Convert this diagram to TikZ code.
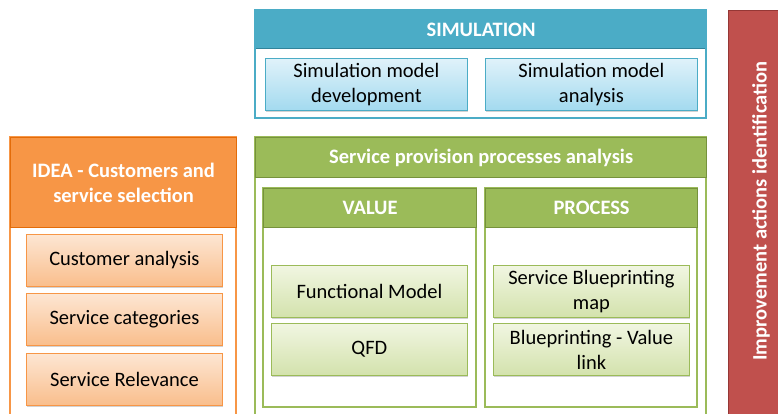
\documentclass[tikz,border=0pt]{standalone}
\usepackage{fontspec}
\setmainfont{Carlito}
\usetikzlibrary{shadows}
\definecolor{aqua}{HTML}{4BACC6}
\definecolor{aquadk}{HTML}{31849B}
\definecolor{bluetop}{HTML}{E0F2FA}
\definecolor{bluebot}{HTML}{A3DAEF}
\definecolor{ogreen}{HTML}{9BBB59}
\definecolor{ogreendk}{HTML}{76923C}
\definecolor{greentop}{HTML}{F1F6E2}
\definecolor{greenbot}{HTML}{D3E2AC}
\definecolor{oorange}{HTML}{F79646}
\definecolor{oorangedk}{HTML}{E36C09}
\definecolor{orangetop}{HTML}{FDE6D3}
\definecolor{orangebot}{HTML}{F9BE8C}
\definecolor{ored}{HTML}{C0504D}
\definecolor{oreddk}{HTML}{953735}
\tikzset{
  frame/.style={draw=#1, line width=1.6pt, fill=white},
  head/.style={draw=#1, line width=1.2pt, text=white, font=\fontsize{20.5}{25}\selectfont\bfseries, align=center, anchor=north west, inner sep=0pt},
  item/.style={draw=#1, line width=0.8pt, align=center, text=black, font=\fontsize{20.5}{25}\selectfont,
    anchor=north west, inner sep=0pt,
    drop shadow={shadow xshift=0.8pt, shadow yshift=-1.2pt, opacity=0.35}},
  blueitem/.style={item=aqua, top color=bluetop, bottom color=bluebot},
  greenitem/.style={item=ogreen, top color=greentop, bottom color=greenbot},
  orangeitem/.style={item=oorange, top color=orangetop, bottom color=orangebot},
}
\begin{document}
\begin{tikzpicture}[x=1pt,y=-1pt]
\useasboundingbox (0,0) rectangle (778,414);
\fill[white] (0,0) rectangle (778,414);
% SIMULATION
\draw[frame=aqua] (255,10) rectangle (706,118);
\node[head=aquadk, fill=aqua, minimum width=451pt, minimum height=38pt] (simh) at (255,10) {SIMULATION};
\draw[aqua, line width=1.6pt] (255,10) rectangle (706,118);
\node[blueitem, minimum width=202pt, minimum height=52pt] (sim1) at (265,58) {Simulation model\\development};
\node[blueitem, minimum width=212pt, minimum height=52pt] (sim2) at (485,58) {Simulation model\\analysis};
% Service provision
\draw[frame=ogreen] (255,137) rectangle (706,418);
\node[head=ogreendk, fill=ogreen, minimum width=451pt, minimum height=40pt] (sph) at (255,137) {Service provision processes analysis};
\draw[ogreen, line width=1.6pt, fill=white] (263,188) rectangle (476,407);
\draw[ogreen, line width=1.6pt, fill=white] (485,188) rectangle (697,407);
\node[head=ogreendk, fill=ogreen, minimum width=213pt, minimum height=39pt] (valh) at (263,188) {VALUE};
\node[head=ogreendk, fill=ogreen, minimum width=212pt, minimum height=39pt] (proh) at (485,188) {PROCESS};
\node[greenitem, minimum width=196pt, minimum height=52pt] (fm) at (271,265) {Functional Model};
\node[greenitem, minimum width=196pt, minimum height=52pt] (qfd) at (271,323) {QFD};
\node[greenitem, minimum width=196pt, minimum height=52pt] (sbm) at (493,265) {Service Blueprinting\\map};
\node[greenitem, minimum width=196pt, minimum height=52pt] (bvl) at (493,323) {Blueprinting - Value\\link};
% IDEA
\draw[frame=oorange] (10,137) rectangle (236,418);
\node[head=oorangedk, fill=oorange, minimum width=226pt, minimum height=90pt] (idh) at (10,137) {IDEA - Customers and\\service selection};
\node[orangeitem, minimum width=196pt, minimum height=52pt] (ca) at (26,234) {Customer analysis};
\node[orangeitem, minimum width=196pt, minimum height=52pt] (sc) at (26,293) {Service categories};
\node[orangeitem, minimum width=196pt, minimum height=52pt] (sr) at (26,353) {Service Relevance};
% Improvement
\node[draw=oreddk, line width=1pt, fill=ored, minimum width=60pt, minimum height=410pt, anchor=north west, inner sep=0pt] (imp) at (728,10) {};
\node[rotate=90, text=white, font=\fontsize{20.5}{25}\selectfont\bfseries] (impt) at (761,211) {Improvement actions identification};
\end{tikzpicture}
\end{document}
